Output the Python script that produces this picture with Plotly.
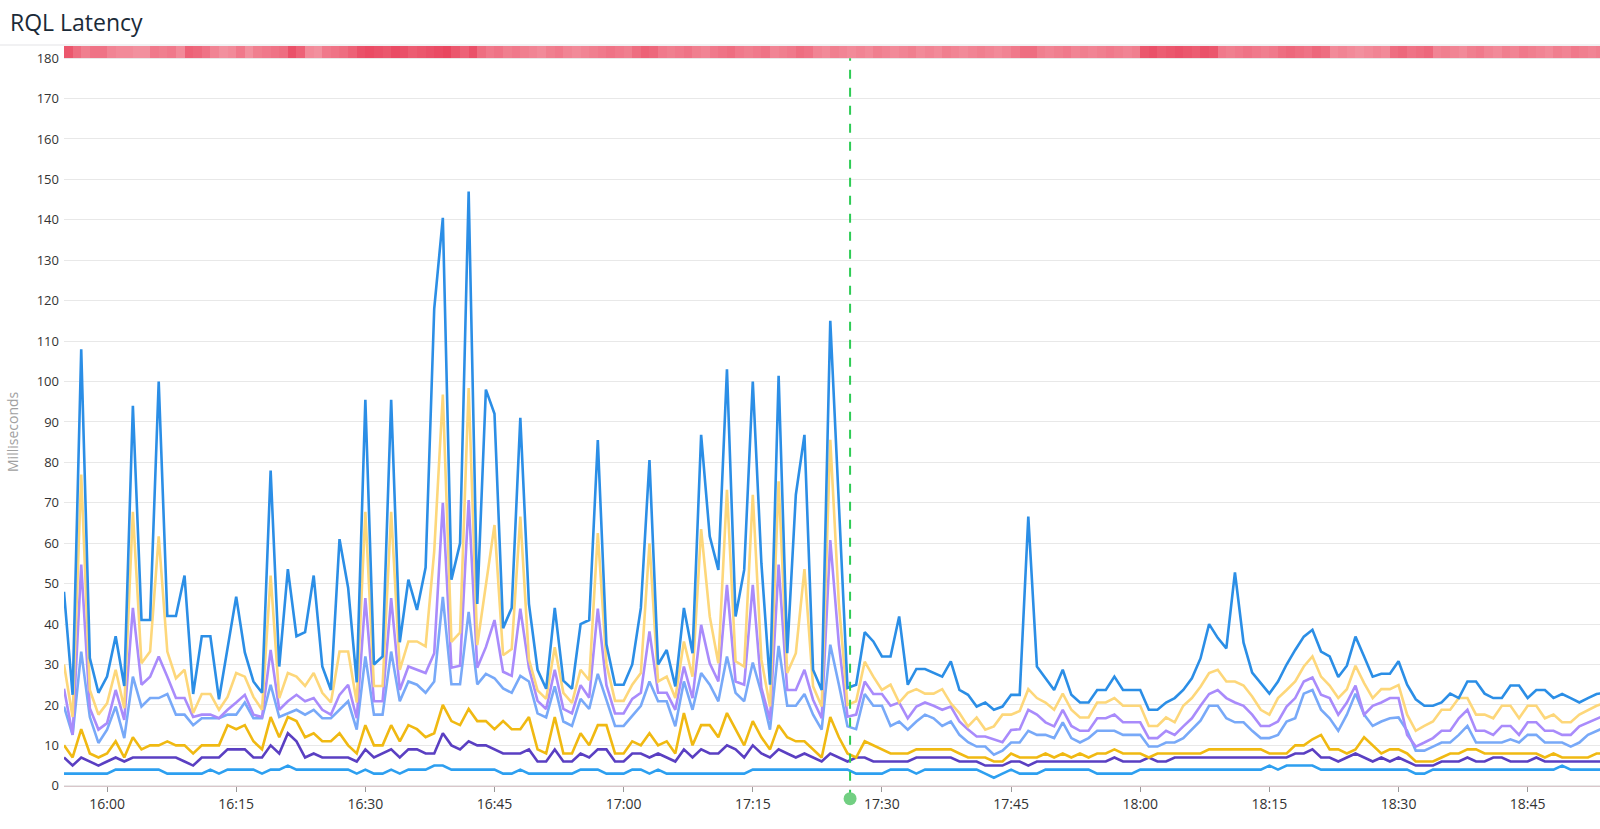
import pandas as pd
import plotly.graph_objects as go

# one sample per minute, 15:55 -> 18:54
minutes = pd.date_range("2019-05-14 15:55", periods=180, freq="min")
heat_edges = pd.date_range("2019-05-14 15:55", periods=180, freq="min")
deploy_time = "2019-05-14 17:26:18"

lat_max = [
    48, 22.5, 108, 31.6, 23, 27, 37, 24.7, 94, 41, 41, 100, 42, 42, 52, 22.7, 37, 37, 21.4, 34.5,
    46.8, 33, 25.8, 23, 78, 29.5, 53.6, 37, 38, 52, 29.5, 23.7, 61, 49, 25.6, 95.5, 30, 32, 95.5, 35.5,
    51, 43.5, 54, 118, 140.5, 51, 60, 147, 45, 98, 92, 39, 44, 91, 45, 28.7, 24, 44, 26, 24,
    40, 41, 85.5, 35, 25, 25, 30, 44, 80.6, 30, 33.6, 24.6, 44, 32.8, 86.8, 61.7, 53.4, 103, 41.9, 53.4,
    100, 55, 25, 101.4, 32.8, 72, 86.8, 28.7, 23.7, 115, 68, 24.2, 25, 38, 35.7, 32, 32, 41.9, 25, 28.9,
    28.9, 27.9, 27, 30.8, 23.7, 22.5, 19.6, 20.6, 18.8, 19.6, 22.5, 22.5, 66.6, 29.5, 26.6, 23.7, 28.7, 22.5, 20.6, 20.6,
    23.7, 23.7, 27, 23.7, 23.7, 23.7, 18.8, 18.8, 20.6, 21.7, 23.7, 26.6, 31.5, 40, 36.6, 34, 52.8, 35.4, 28, 25.4,
    22.8, 25.8, 30, 33.6, 36.9, 38.6, 33.2, 32, 26.9, 29.7, 36.9, 32, 27, 27.7, 27.7, 30.8, 25, 21.4, 19.8, 19.8,
    20.6, 22.8, 21.7, 25.8, 25.8, 22.8, 21.7, 21.7, 24.8, 24.8, 21.7, 23.7, 23.7, 21.7, 22.7, 21.7, 20.6, 21.7, 22.7, 23,
]
lat_p99 = [
    30, 17, 77, 23.7, 17.6, 20.4, 28.7, 19.2, 67.8, 30.3, 33.2, 61.7, 33.2, 26.6, 28.7, 18, 22.7, 22.7, 18.8, 22,
    27.9, 27, 22, 18.8, 52, 21.7, 27.9, 27, 24.7, 27.9, 23, 20.6, 33.2, 33.2, 20.6, 67.8, 24.7, 24.7, 67.8, 28.7,
    35.7, 35.7, 34.5, 58, 96.8, 35.6, 37.9, 98.4, 34.8, 49.7, 64.5, 32.3, 33.8, 66.6, 31.3, 23.6, 21.5, 34.3, 23, 20.5,
    28.7, 26.1, 62.5, 30.2, 21, 21, 25, 27.9, 60, 25.8, 27, 21.7, 35.7, 27, 63.5, 41.9, 30.3, 73.2, 30.8, 29.5,
    72, 31.2, 19.6, 75.3, 27.9, 32.8, 53.6, 24.6, 19.6, 85.6, 45, 20, 20.9, 30.7, 27, 23.7, 25, 20.6, 23, 23.9,
    22.8, 22.8, 23.9, 20.4, 18, 14.7, 16.9, 13.9, 14.7, 17.6, 17.6, 18.5, 23.9, 21.7, 20.6, 18.8, 22.8, 18.8, 16.9, 16.9,
    20.6, 20.6, 21.7, 19.8, 19.8, 19.8, 14.8, 14.8, 16.9, 15.7, 19.8, 21.7, 24.5, 27.9, 28.7, 25.8, 25.8, 24.8, 22.1, 18.8,
    17.6, 21.7, 23.7, 25.8, 29.5, 32, 27, 24.8, 21.7, 23.9, 29.7, 25.4, 21.7, 23.9, 23.9, 24.9, 17.6, 13.6, 14.8, 15.9,
    18.8, 18.8, 21.7, 21.7, 17.6, 17.6, 16.7, 19.8, 19.8, 16.7, 19.8, 19.8, 16.7, 17.6, 15.7, 15.7, 17.6, 18.8, 19.8, 20.5,
]
lat_p95 = [
    24, 12.6, 54.7, 19.2, 13.9, 15.5, 23.7, 16.3, 44, 25, 27, 32, 27, 21.7, 21.7, 17, 17.6, 17.6, 16.7, 18.8,
    20.6, 22.5, 17.6, 17, 33.6, 18.8, 20.9, 22.5, 20.9, 21.7, 18.8, 17.6, 22.5, 25, 16.7, 46.4, 20.9, 20.9, 46.4, 23.7,
    29.5, 28.7, 27.9, 32.8, 70, 29.2, 29.7, 70.7, 29.2, 34.3, 41, 28.2, 27.2, 43.8, 29.2, 21, 19, 28.7, 19, 17.9,
    24.9, 21.8, 43.8, 24.9, 17.9, 17.9, 21.5, 23, 38.2, 23, 23, 18.8, 29.5, 21.7, 39.8, 30.3, 25.8, 49.7, 25.8, 25,
    49.7, 24.2, 16.3, 54.7, 23.7, 23.7, 28.7, 21.3, 16.7, 60.8, 35, 17.1, 17.6, 25.8, 22.7, 22.7, 19.8, 20.6, 16.7, 19.6,
    20.6, 19.8, 18.8, 19.6, 15.9, 13.9, 12.2, 12.2, 11.4, 10.8, 13.8, 14, 18.8, 17.6, 15.7, 14.7, 18.8, 14.8, 13.6, 13.6,
    16.7, 16.7, 17.6, 15.7, 15.7, 15.7, 11.8, 11.8, 13.6, 12.6, 14.7, 16.7, 19.8, 22.7, 23.7, 21.7, 20.6, 19.8, 17.6, 14.8,
    14.8, 15.9, 19.6, 21.7, 25.8, 26.8, 22.5, 21.7, 17.6, 20.6, 24.8, 17.6, 19.8, 20.6, 21.7, 21.7, 12.6, 9.7, 10.7, 11.8,
    13.6, 13.6, 16.7, 18.8, 13.6, 13.6, 12.6, 14.8, 14.8, 12.6, 15.7, 15.7, 13.6, 13.6, 12.6, 12.6, 14.7, 15.7, 16.7, 17.5,
]
lat_p90 = [
    19.6, 12.6, 33.2, 17, 10.6, 13.9, 19.6, 11.8, 27, 19.6, 21.7, 21.7, 22.7, 17.6, 17.6, 15, 16.7, 16.7, 16.7, 17.6,
    17.6, 20.6, 16.7, 16.7, 25, 17, 18, 18.8, 17.6, 18.8, 16.7, 16.7, 18.8, 20.9, 13.9, 32, 17.6, 17.6, 33.2, 20.9,
    25.8, 25, 23, 25.8, 46.7, 25.1, 25.1, 43, 25.1, 27.7, 26.6, 24.1, 23, 27.2, 25.8, 17.9, 16.9, 24.6, 15.9, 14.8,
    21.5, 19, 27.7, 21, 14.8, 14.8, 17.2, 19.8, 25.8, 20.9, 20.9, 14.7, 25.8, 18.8, 27.9, 25, 20.9, 32, 23, 20.9,
    30.5, 23, 13.9, 34.6, 19.8, 19.8, 22.7, 17.6, 13.9, 34.9, 25, 14.7, 14, 22.7, 19.8, 19.8, 14.8, 15.9, 13.9, 15.9,
    17.6, 16.7, 14.8, 15.9, 12.6, 10.8, 9.7, 9.7, 7.7, 8.7, 10.7, 10.7, 13.6, 12.6, 12.6, 11.8, 15.7, 11.8, 10.7, 11.8,
    13.6, 13.6, 13.6, 12.6, 12.6, 12.6, 9.7, 9.7, 10.7, 10.7, 11.8, 13.9, 16.1, 19.8, 19.8, 16.7, 15.7, 15.7, 13.6, 11.8,
    11.8, 12.6, 15.9, 16.7, 22.8, 23.7, 18.8, 16.7, 13.6, 17.6, 22.8, 17.6, 14.8, 15.9, 16.7, 16.9, 13.6, 8.7, 8.7, 9.7,
    10.7, 10.7, 12.6, 14.8, 10.7, 10.7, 10.7, 10.7, 11.5, 10.7, 12.6, 12.6, 10.7, 10.7, 10.7, 9.7, 10.7, 12.6, 13.6, 14.5,
]
lat_p50 = [
    10, 7, 14, 8, 7, 8, 11, 7, 12, 9, 10, 10, 11, 10, 10, 8, 10, 10, 10, 15,
    14, 15, 11, 9, 17, 12, 17, 16, 12, 13, 11, 11, 13, 10, 8, 15, 10, 10, 15, 11,
    15, 14, 12, 13, 20, 16, 15, 19, 16, 16, 14, 16, 14, 14, 17, 9, 8, 17, 8, 8,
    13, 10, 15, 15, 8, 8, 11, 10, 13, 10, 11, 8, 18, 10, 15, 15, 12, 18, 14, 10,
    16, 12, 9, 15, 12, 11, 11, 9, 7, 17, 12, 8, 7, 11, 10, 9, 8, 8, 8, 9,
    9, 9, 9, 9, 8, 7, 7, 7, 6, 6, 8, 7, 7, 7, 8, 7, 8, 7, 8, 7,
    8, 8, 9, 8, 8, 8, 7, 8, 8, 8, 8, 8, 8, 9, 9, 9, 9, 9, 9, 9,
    8, 8, 8, 10, 10, 11.5, 12.6, 9, 9, 8, 9, 12, 10, 8, 9, 9, 8, 6, 6, 6,
    7, 8, 8, 9, 9, 8, 8, 8, 8, 8, 8, 8, 7, 8, 7, 7, 7, 7, 8, 8,
]
lat_p25 = [
    7, 5, 7, 6, 5, 6, 7, 6, 7, 7, 7, 7, 7, 7, 6, 5, 7, 7, 7, 9,
    9, 9, 7, 7, 10, 8, 13, 11, 7, 8, 7, 7, 7, 7, 6, 9, 7, 8, 9, 7,
    9, 9, 8, 8, 13, 10, 9, 11, 10, 10, 9, 8, 8, 8, 9, 6, 6, 9, 6, 6,
    8, 7, 9, 9, 6, 6, 8, 8, 7, 8, 7, 6, 9, 7, 9, 8, 8, 10, 9, 7,
    10, 8, 7, 9, 8, 7, 8, 7, 6, 8, 7, 6, 7, 7, 6, 6, 6, 6, 6, 7,
    7, 7, 7, 7, 6, 6, 6, 5, 5, 5, 6, 6, 5, 6, 6, 6, 6, 6, 6, 6,
    6, 6, 7, 6, 6, 6, 7, 6, 6, 7, 7, 7, 7, 7, 7, 7, 7, 7, 7, 7,
    7, 7, 7, 8, 8, 9, 7, 7, 6, 7, 8, 7, 6, 7, 6, 7, 6, 5, 5, 5,
    6, 6, 6, 7, 6, 6, 7, 7, 6, 6, 6, 7, 6, 6, 6, 6, 6, 6, 6, 6,
]
lat_min = [
    3, 3, 3, 3, 3, 3, 4, 4, 4, 4, 4, 4, 3, 3, 3, 3, 3, 4, 3, 4,
    4, 4, 4, 3, 4, 4, 5, 4, 4, 4, 4, 4, 4, 4, 3, 4, 3, 3, 4, 3,
    4, 4, 4, 5, 5, 4, 4, 4, 4, 4, 4, 3, 3, 4, 3, 3, 3, 3, 3, 3,
    4, 4, 4, 3, 3, 3, 4, 4, 3, 4, 3, 3, 3, 3, 3, 3, 3, 3, 3, 3,
    4, 4, 4, 4, 4, 4, 4, 4, 4, 4, 4, 4, 3, 3, 3, 3, 4, 4, 4, 3,
    4, 4, 4, 4, 4, 4, 4, 3, 2, 3, 4, 3, 3, 3, 4, 4, 4, 4, 4, 4,
    3, 3, 3, 3, 3, 4, 4, 4, 4, 4, 4, 4, 4, 4, 4, 4, 4, 4, 4, 4,
    5, 4, 5, 5, 5, 5, 4, 4, 4, 4, 4, 4, 4, 4, 4, 4, 4, 3, 3, 4,
    4, 4, 4, 4, 4, 4, 4, 4, 4, 4, 4, 4, 4, 4, 5, 4, 4, 4, 4, 4,
]

# activity strip above the plot, one cell per minute (0 = light, 1 = dark)
heat_levels = [
    0.8, 0.6, 0.45, 0.55, 0.55, 0.4, 0.35, 0.35, 0.3, 0.3, 0.5, 0.45, 0.5, 0.35, 0.7, 0.65, 0.55, 0.4, 0.3, 0.35,
    0.5, 0.3, 0.45, 0.5, 0.55, 0.6, 0.85, 0.7, 0.35, 0.3, 0.5, 0.55, 0.6, 0.7, 0.85, 0.9, 0.85, 0.8, 0.9, 0.85,
    0.75, 0.8, 0.85, 0.9, 0.95, 0.8, 0.7, 0.85, 0.6, 0.5, 0.55, 0.45, 0.5, 0.45, 0.4, 0.35, 0.45, 0.5, 0.4, 0.35,
    0.4, 0.45, 0.5, 0.55, 0.5, 0.45, 0.6, 0.7, 0.65, 0.5, 0.45, 0.5, 0.55, 0.45, 0.4, 0.5, 0.55, 0.6, 0.5, 0.45,
    0.5, 0.55, 0.4, 0.45, 0.5, 0.6, 0.55, 0.4, 0.35, 0.45, 0.4, 0.35, 0.4, 0.35, 0.45, 0.4, 0.35, 0.4, 0.45, 0.35,
    0.4, 0.35, 0.45, 0.4, 0.35, 0.4, 0.45, 0.4, 0.35, 0.4, 0.5, 0.6, 0.6, 0.45, 0.4, 0.45, 0.5, 0.4, 0.45, 0.4,
    0.45, 0.5, 0.45, 0.4, 0.45, 0.8, 0.85, 0.75, 0.8, 0.85, 0.8, 0.75, 0.85, 0.8, 0.5, 0.45, 0.5, 0.55, 0.5, 0.45,
    0.5, 0.6, 0.65, 0.6, 0.55, 0.65, 0.6, 0.35, 0.4, 0.35, 0.3, 0.35, 0.4, 0.35, 0.6, 0.65, 0.55, 0.6, 0.65, 0.4,
    0.45, 0.4, 0.35, 0.45, 0.5, 0.4, 0.35, 0.45, 0.4, 0.5, 0.45, 0.4, 0.35, 0.45, 0.4, 0.5, 0.45, 0.4, 0.45,
]

series = [
    ("min", lat_min, "#2d9ff0"),
    ("p25", lat_p25, "#5a3fc2"),
    ("p50", lat_p50, "#f0b912"),
    ("p90", lat_p90, "#78a9f8"),
    ("p95", lat_p95, "#a98bfb"),
    ("p99", lat_p99, "#fdd77a"),
    ("max", lat_max, "#2b8ee6"),
]

W, H = 1600, 829
Y_LOW, Y_HIGH = -5, 183

fig = go.Figure()

fig.add_trace(
    go.Heatmap(
        x=heat_edges,
        y=[180, 183],
        z=[heat_levels],
        zmin=0,
        zmax=1,
        colorscale=[[0, "#f7b2bb"], [1, "#e8405a"]],
        showscale=False,
        hoverinfo="skip",
    )
)

for name, values, color in series:
    fig.add_trace(
        go.Scatter(
            x=minutes,
            y=values,
            mode="lines",
            name=name,
            line={"color": color, "width": 2.6},
        )
    )

# deploy event: dashed line plus marker under the axis
fig.add_trace(
    go.Scatter(
        x=[deploy_time, deploy_time],
        y=[-3.2, 180],
        mode="lines",
        line={"color": "#2ecc55", "width": 2, "dash": "dash"},
        hoverinfo="skip",
    )
)
fig.add_trace(
    go.Scatter(
        x=[deploy_time],
        y=[-3.2],
        mode="markers",
        marker={"symbol": "circle", "size": 13, "color": "#72cf82"},
        hoverinfo="skip",
    )
)

# thin rule under the title
fig.add_shape(
    type="line",
    xref="paper",
    yref="paper",
    x0=-64 / 1536,
    x1=1,
    y0=1 + 1 / 760,
    y1=1 + 1 / 760,
    line={"color": "#e3e3e6", "width": 1},
)

fig.add_annotation(
    text="Milliseconds",
    xref="paper",
    yref="paper",
    x=-52 / 1536,
    xanchor="center",
    y=(806 - 432) / 760,
    yanchor="middle",
    textangle=-90,
    showarrow=False,
    font={"size": 14, "color": "#a0a0a0"},
)

fig.update_layout(
    width=W,
    height=H,
    margin={"l": 64, "r": 0, "t": 46, "b": 23},
    paper_bgcolor="white",
    plot_bgcolor="white",
    showlegend=False,
    font={"family": "Open Sans", "size": 13, "color": "#333333"},
    title={
        "text": "RQL Latency",
        "xref": "container",
        "yref": "container",
        "x": 10 / W,
        "xanchor": "left",
        "y": 1 - 22.5 / H,
        "yanchor": "middle",
        "font": {"size": 23, "color": "#1b2a38", "family": "Open Sans"},
    },
    xaxis={
        "type": "date",
        "range": ["2019-05-14 15:55:00", "2019-05-14 18:53:24"],
        "anchor": "free",
        "position": (0 - Y_LOW) / (Y_HIGH - Y_LOW),
        "tick0": "2019-05-14 16:00",
        "dtick": 15 * 60 * 1000,
        "tickformat": "%H:%M",
        "ticks": "outside",
        "ticklen": 5,
        "tickcolor": "#9a9a9a",
        "showgrid": False,
        "showline": True,
        "linecolor": "#d9c6ca",
        "zeroline": False,
        "tickfont": {"size": 14, "color": "#333333"},
    },
    yaxis={
        "range": [Y_LOW, Y_HIGH],
        "tick0": 0,
        "dtick": 10,
        "showgrid": True,
        "gridcolor": "#e8e8e8",
        "zeroline": False,
        "ticks": "",
        "ticklabelstandoff": 4,
        "tickfont": {"size": 13, "color": "#333333"},
    },
)

# drop the default 8px body margin so the figure sits at the page corner
fig.write_html(
    "out.html",
    config={"displayModeBar": False},
    post_script="document.body.style.margin = '0';",
)
